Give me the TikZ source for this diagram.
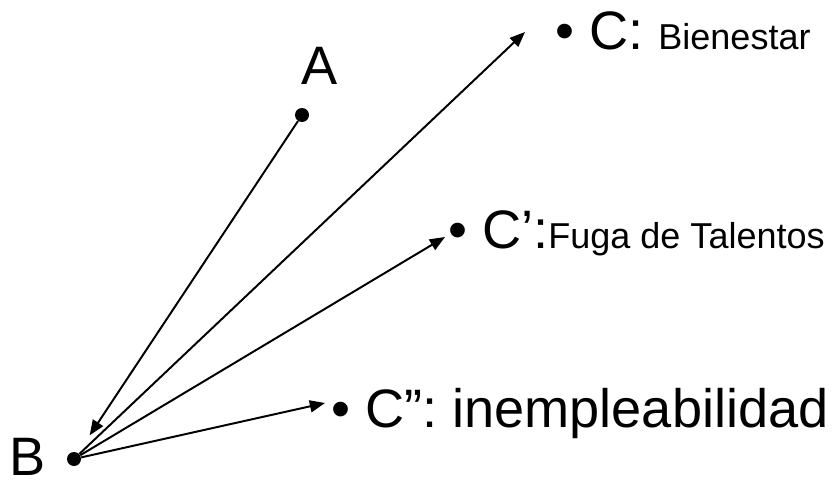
\documentclass[tikz,border=0pt]{standalone}
\usepackage{fontspec}
\setmainfont{Liberation Sans}
\usetikzlibrary{arrows.meta}
\newcommand\labelbig{\fontsize{38.5}{46}\selectfont}
\newcommand\labelsmall{\fontsize{25.6}{30}\selectfont}
\tikzset{
  dot/.style={circle,fill,inner sep=0pt,minimum size=3.5mm},
  arr/.style={-{Triangle[length=3.8mm,width=3mm]},line width=1.4pt},
  txt/.style={anchor=base west,inner sep=0pt,font=\labelbig},
  lbl/.style={anchor=base,inner sep=0pt,font=\labelbig}
}
\begin{document}
\begin{tikzpicture}[x=0.025cm,y=-0.025cm]
\useasboundingbox (0,0) rectangle (838,480);
\node[dot] (A) at (302,115) {};
\node[dot] (B) at (74,459) {};
\node[lbl] (Alab) at (320,84) {A};
\node[lbl] (Blab) at (28,475) {B};
\node[txt] (C) at (555,50) {\textbullet\ C: {\labelsmall Bienestar}};
\node[txt] (C1) at (448,248) {\textbullet\ C’:{\labelsmall Fuga de Talentos}};
\node[txt] (C2) at (331,427) {\textbullet\ C”: inempleabilidad};
\coordinate (Ctip) at (525,32);
\coordinate (C1tip) at (445,237);
\coordinate (C2tip) at (325,403);
\draw[arr,shorten >=15] (A) -- (B);
\draw[arr] (B) -- (Ctip);
\draw[arr] (B) -- (C1tip);
\draw[arr] (B) -- (C2tip);
\end{tikzpicture}
\end{document}
